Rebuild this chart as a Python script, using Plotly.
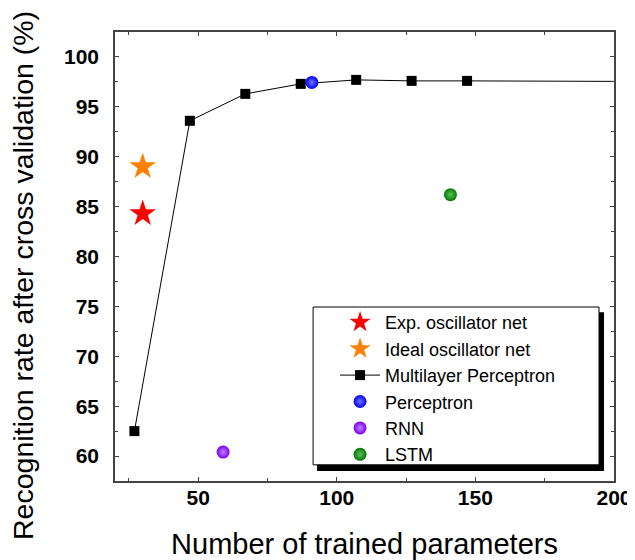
import plotly.graph_objects as go

# data
mlp_params = [27, 47, 67, 87, 107, 127, 147, 307]
mlp_rate = [62.5, 93.6, 96.3, 97.3, 97.7, 97.6, 97.6, 97.45]

exp_osc_params = [30]
exp_osc_rate = [84.3]
ideal_osc_params = [30]
ideal_osc_rate = [89.0]

perceptron_params = [91]
perceptron_rate = [97.45]
rnn_params = [59]
rnn_rate = [60.4]
lstm_params = [141]
lstm_rate = [86.2]

FONT = "Liberation Sans, Arial, sans-serif"


def sphere(name, x, y, color, shine):
    return go.Scatter(
        x=x, y=y, mode='markers', name=name,
        marker=dict(size=13, color=color,
                    gradient=dict(type='radial', color=shine),
                    line=dict(width=0))
    )


fig = go.Figure()

fig.add_trace(go.Scatter(
    x=exp_osc_params, y=exp_osc_rate, mode='markers', name='Exp. oscillator net',
    marker=dict(symbol='star', size=20, color='#ff0000', line=dict(width=0))
))
fig.add_trace(go.Scatter(
    x=ideal_osc_params, y=ideal_osc_rate, mode='markers', name='Ideal oscillator net',
    marker=dict(symbol='star', size=20, color='#ff8000', line=dict(width=0))
))
fig.add_trace(go.Scatter(
    x=mlp_params, y=mlp_rate, mode='lines+markers', name='Multilayer Perceptron',
    line=dict(color='black', width=1),
    marker=dict(symbol='square', size=10, color='black')
))
fig.add_trace(sphere('Perceptron', perceptron_params, perceptron_rate, '#0000f0', '#7070ff'))
fig.add_trace(sphere('RNN', rnn_params, rnn_rate, '#7a00f0', '#c080ff'))
fig.add_trace(sphere('LSTM', lstm_params, lstm_rate, '#007a00', '#60c060'))

# legend box with drop shadow
fig.add_shape(type='rect', xref='paper', yref='paper',
              x0=0.405, x1=0.980, y0=0.022, y1=0.376,
              fillcolor='black', line=dict(width=0), layer='above')
fig.add_shape(type='rect', xref='paper', yref='paper',
              x0=0.397, x1=0.970, y0=0.036, y1=0.3875,
              fillcolor='white', line=dict(color='black', width=1), layer='above')

# y title sits a little below the plot centre in the reference
fig.add_annotation(
    text='Recognition rate after cross validation (%)',
    xref='paper', yref='paper', x=-0.184, y=0.457,
    xanchor='center', yanchor='middle', textangle=-90, showarrow=False,
    font=dict(family=FONT, size=28.5, color='black')
)

axis_style = dict(
    showline=True, linecolor='#444', linewidth=1.5, mirror='allticks',
    ticks='inside', ticklen=4, tickcolor='#444',
    showgrid=False, zeroline=False, automargin=False,
    tickfont=dict(family=FONT, size=21, color='black', weight='bold'),
)

fig.update_xaxes(
    range=[20, 200], tick0=0, dtick=50,
    minor=dict(dtick=25, ticks='inside', ticklen=3, tickcolor='#444'),
    ticklabelstandoff=-3,
    title=dict(text='Number of trained parameters',
               font=dict(family=FONT, size=29, color='black'), standoff=28),
    **axis_style
)
fig.update_yaxes(
    range=[57.5, 102.5], tick0=0, dtick=5,
    minor=dict(dtick=2.5, ticks='inside', ticklen=3, tickcolor='#444'),
    ticklabelstandoff=10,
    **axis_style
)

fig.update_layout(
    width=627, height=552,
    margin=dict(l=107, r=21, t=24, b=79),
    paper_bgcolor='white', plot_bgcolor='white',
    showlegend=True,
    legend=dict(
        x=0.441, y=0.394, xanchor='left', yanchor='top',
        bgcolor='rgba(0,0,0,0)', borderwidth=0,
        font=dict(family=FONT, size=18, color='black'),
        itemwidth=40, tracegroupgap=0,
    ),
)

fig.write_html("out.html")
